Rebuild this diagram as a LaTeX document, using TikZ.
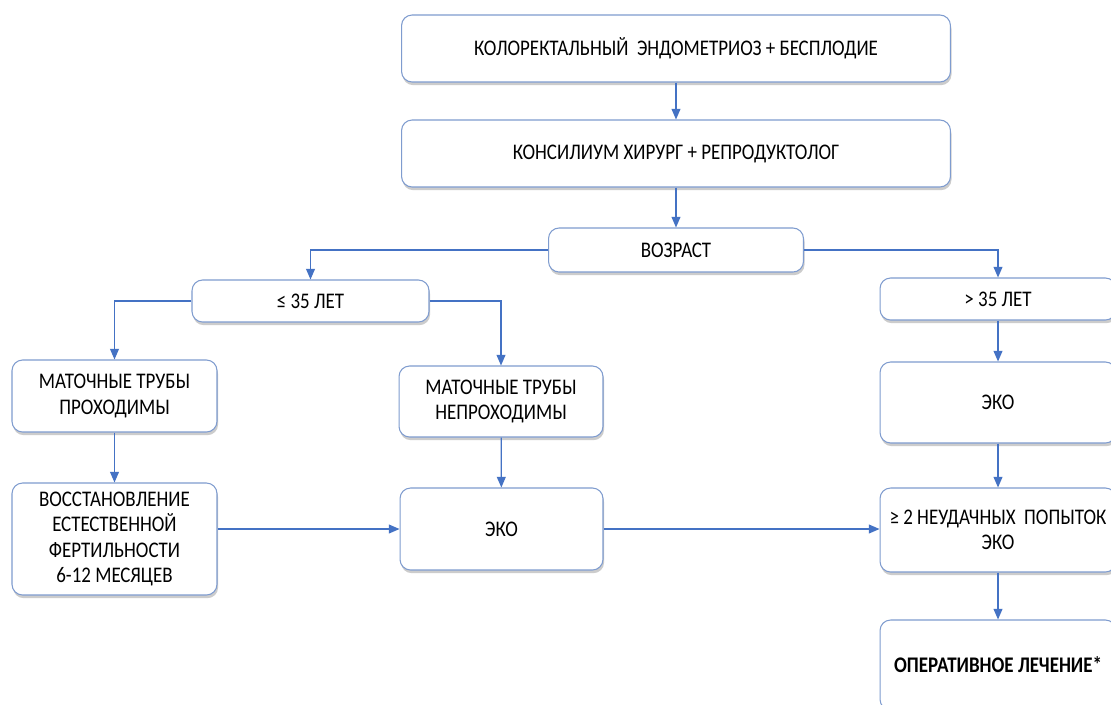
\documentclass[tikz,border=0pt]{standalone}
\usepackage{fontspec}
\setmainfont[FakeStretch=0.85]{Carlito}
\usepackage{tikz}
\usetikzlibrary{arrows.meta,shadows}
\usepackage{xcolor}
\definecolor{boxline}{HTML}{7F9CCF}
\definecolor{linkblue}{HTML}{4472C4}

\tikzset{
    box/.style={draw=boxline, line width=0.6pt, rounded corners=6pt, fill=white, align=center,
        inner sep=2pt, font=\fontsize{12.7}{14.3}\selectfont,
        drop shadow={shadow xshift=0.6pt, shadow yshift=-1.8pt, opacity=0.4}},
    boxsize/.style 2 args={minimum width=#1cm, minimum height=#2cm},
    link/.style={draw=linkblue, line width=0.7pt, -{Triangle[width=5pt,length=6pt]}}
}

\begin{document}
\begin{tikzpicture}[x=0.02cm, y=-0.02cm]
                    \fill[white] (0,0) rectangle (1111,704);
                    \useasboundingbox (0,0) rectangle (1111,704);
                    % top of the chart
                    \node[box, boxsize={10.98}{1.34}] (diag) at (676,48.5) {КОЛОРЕКТАЛЬНЫЙ~ ЭНДОМЕТРИОЗ + БЕСПЛОДИЕ};
                    \node[box, boxsize={10.98}{1.34}] (council) at (676,153.5) {КОНСИЛИУМ ХИРУРГ + РЕПРОДУКТОЛОГ};
                    \node[box, boxsize={5.1}{0.88}] (age) at (676,250) {ВОЗРАСТ};
                    % young branch
                    \node[box, boxsize={4.74}{0.84}] (young) at (310.5,301) {≤ 35 ЛЕТ};
                    \node[box, boxsize={4.1}{1.44}] (open) at (114.5,396) {МАТОЧНЫЕ ТРУБЫ\\ПРОХОДИМЫ};
                    \node[box, boxsize={4.1}{2.24}] (natural) at (114.5,539) {ВОССТАНОВЛЕНИЕ\\ЕСТЕСТВЕННОЙ\\ФЕРТИЛЬНОСТИ\\6-12 МЕСЯЦЕВ};
                    \node[box, boxsize={4.08}{1.42}] (closed) at (501,401.5) {МАТОЧНЫЕ ТРУБЫ\\НЕПРОХОДИМЫ};
                    \node[box, boxsize={4.06}{1.64}] (ivfa) at (501.5,529) {ЭКО};
                    % old branch, cut by the right edge
                    \node[box, boxsize={4.72}{0.84}] (old) at (998,299) {> 35 ЛЕТ};
                    \node[box, boxsize={4.72}{1.62}] (ivfb) at (998,402.5) {ЭКО};
                    \node[box, boxsize={4.72}{1.68}] (fail) at (998,530) {≥ 2 НЕУДАЧНЫХ~ ПОПЫТОК\\ЭКО};
                    \node[box, boxsize={4.72}{1.8}, font=\fontsize{12.7}{14.3}\selectfont\bfseries] (surgery) at (998,665) {ОПЕРАТИВНОЕ ЛЕЧЕНИЕ*};

                    \foreach \a/\b in {diag/council, council/age, open/natural, closed/ivfa, old/ivfb, ivfb/fail, fail/surgery} {
                        \draw[link] (\a) -- (\b);
                    }
                    \draw[link] (age.west) -| (young.north);
                    \draw[link] (age.east) -| (old.north);
                    \draw[link] (young.west) -| (open.north);
                    \draw[link] (young.east) -| (closed.north);
                    \draw[link] (ivfa.west -| natural.east) -- (ivfa.west);
                    \draw[link] (ivfa.east) -- (fail.west |- ivfa.east);
                \end{tikzpicture}
\end{document}
